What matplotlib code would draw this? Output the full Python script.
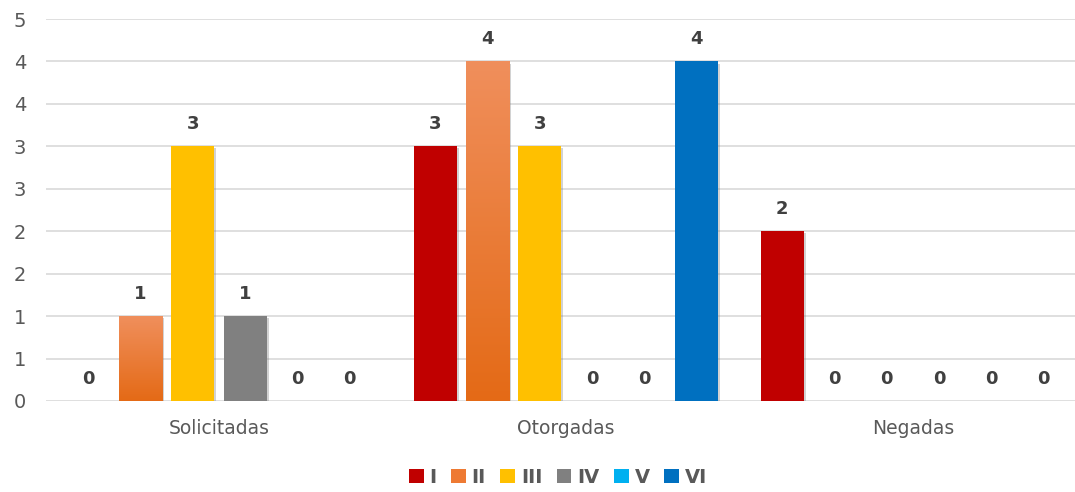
import math
import numpy as np
import matplotlib
matplotlib.use("Agg")
import matplotlib.pyplot as plt
from matplotlib.patches import Patch
from matplotlib.ticker import MultipleLocator, FuncFormatter
import matplotlib.patheffects as pe

plt.rcParams["font.family"] = ["DejaVu Sans"]

# data
categories = ["Solicitadas", "Otorgadas", "Negadas"]
series_names = ["I", "II", "III", "IV", "V", "VI"]
values_I = [0, 3, 2]
values_II = [1, 4, 0]
values_III = [3, 3, 0]
values_IV = [1, 0, 0]
values_V = [0, 0, 0]
values_VI = [0, 4, 0]
colors = ["#C00000", "#EE7A33", "#FFC000", "#808080", "#00B0F0", "#0070C0"]

all_values = [values_I, values_II, values_III, values_IV, values_V, values_VI]

fig = plt.figure(figsize=(10.75, 4.92), dpi=100)
ax = fig.add_axes([45.5 / 1075, 1 - 401 / 492, 1041 / 1075, (401 - 19) / 492])

x = np.arange(len(categories))
step = 0.1506
width = 0.124
shadow = [pe.SimplePatchShadow(offset=(1.5, -1.5), shadow_rgbFace="0.5", alpha=0.35), pe.Normal()]

for i, (name, vals, col) in enumerate(zip(series_names, all_values, colors)):
    pos = x + (i - 2.5) * step
    bars = ax.bar(pos, vals, width, color=col, zorder=3, label=name)
    for b, v in zip(bars, vals):
        if v > 0:
            b.set_path_effects(shadow)
        if name == "II" and v > 0:
            # orange gradient, lighter at top
            grad = np.linspace(0, 1, 256).reshape(-1, 1)
            cmap = matplotlib.colors.LinearSegmentedColormap.from_list(
                "og", ["#F08F5C", "#E46A16"])
            im = ax.imshow(grad, cmap=cmap, aspect="auto", zorder=4,
                           extent=[b.get_x(), b.get_x() + b.get_width(), 0, v],
                           origin="upper")
            im.set_clip_path(b)
        ax.annotate(str(v), (b.get_x() + b.get_width() / 2, v), xytext=(0, 16),
                    textcoords="offset points", ha="center", va="center",
                    fontsize=13, fontweight="bold", color="#404040", zorder=5)

ax.set_xlim(-0.5, 2.5)
ax.set_ylim(0, 4.5)
ax.yaxis.set_major_locator(MultipleLocator(0.5))
ax.yaxis.set_major_formatter(FuncFormatter(lambda v, p: str(int(math.floor(v + 0.5)))))
ax.set_xticks(x)
ax.set_xticklabels(categories)
ax.tick_params(axis="both", length=0, colors="#595959", labelsize=14)
ax.tick_params(axis="x", pad=13, labelsize=13.5)
ax.tick_params(axis="y", pad=14)
ax.grid(axis="y", color="#D9D9D9", linewidth=1.2, zorder=0)
for s in ax.spines.values():
    s.set_visible(False)

handles = [Patch(facecolor=c, label=n) for n, c in zip(series_names, colors)]
leg = fig.legend(handles=handles, loc="center", bbox_to_anchor=(0.519, 0.03), ncol=6,
                 frameon=False, handlelength=0.75, handleheight=0.75, handletextpad=0.3,
                 columnspacing=0.75, prop={"weight": "bold", "size": 14})
for t in leg.get_texts():
    t.set_color("#595959")

fig.savefig("out.png", dpi=100)
